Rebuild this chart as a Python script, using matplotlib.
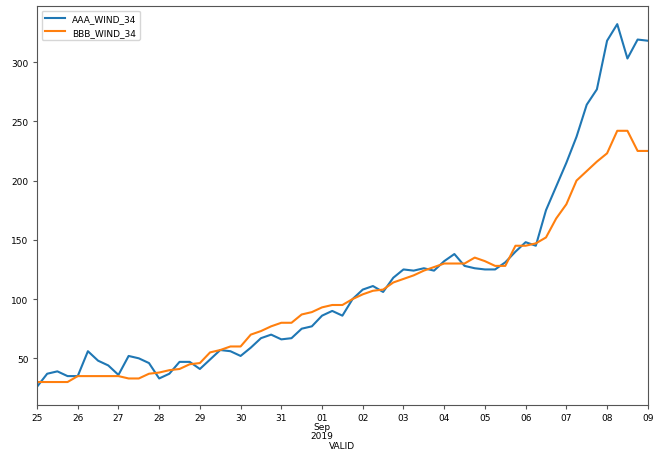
import matplotlib
matplotlib.use('Agg')
import matplotlib.pyplot as plt
import matplotlib.ticker as mticker
import pandas as pd

# 6-hourly wind radii, 25 Aug - 09 Sep 2019
start = '2019-08-25 00:00'
aaa_wind_34 = [26, 37, 39, 35, 35, 56, 48, 44, 36, 52,
               50, 46, 33, 37, 47, 47, 41, 49, 57, 56,
               52, 59, 67, 70, 66, 67, 75, 77, 86, 90,
               86, 100, 108, 111, 106, 118, 125, 124, 126, 124,
               132, 138, 128, 126, 125, 125, 131, 140, 148, 145,
               175, 195, 215, 237, 264, 277, 318, 332, 303, 319,
               318]
bbb_wind_34 = [30, 30, 30, 30, 35, 35, 35, 35, 35, 33,
               33, 37, 38, 40, 41, 45, 46, 55, 57, 60,
               60, 70, 73, 77, 80, 80, 87, 89, 93, 95,
               95, 100, 104, 107, 108, 114, 117, 120, 124, 127,
               130, 130, 130, 135, 132, 128, 128, 145, 145, 147,
               152, 168, 180, 200, 208, 216, 223, 242, 242, 225,
               225]

valid = pd.date_range(start, periods=len(aaa_wind_34), freq='6h')

fig = plt.figure(figsize=(6.55, 4.52), dpi=100)
ax = fig.add_axes([0.0565, 0.102, 0.9325, 0.8825])

ax.plot(valid, aaa_wind_34, color='#1f77b4', lw=1.5, label='AAA_WIND_34')
ax.plot(valid, bbb_wind_34, color='#ff7f0e', lw=1.5, label='BBB_WIND_34')

ax.set_xlim(valid[0], valid[-1])

# day ticks, with month/year under the first of the month
days = pd.date_range(valid[0], valid[-1], freq='D')
labels = []
for d in days:
    if d.day == 1:
        labels.append(d.strftime('%d\n%b\n%Y'))
    else:
        labels.append(d.strftime('%d'))
ax.set_xticks(days)
ax.set_xticklabels(labels)
ax.xaxis.set_minor_locator(mticker.NullLocator())
for lbl in ax.get_xticklabels():
    lbl.set_linespacing(1.0)

ax.tick_params(labelsize=6.5, length=3, pad=3, color='#555555')
ax.set_xlabel('VALID', fontsize=6.5, labelpad=0.5)
for s in ax.spines.values():
    s.set_color('#555555')

ax.legend(loc='upper left', fontsize=6.5, handlelength=2.2)

fig.savefig('out.png', dpi=100)
